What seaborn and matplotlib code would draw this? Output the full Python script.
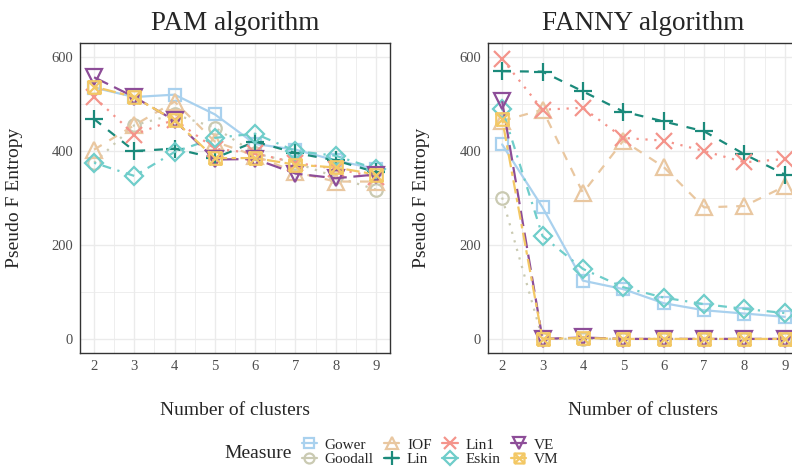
import matplotlib
matplotlib.use("Agg")
import matplotlib.pyplot as plt
from matplotlib.path import Path
from matplotlib.lines import Line2D
import seaborn as sns
import pandas as pd

# ---------------- data ----------------
clusters = [2, 3, 4, 5, 6, 7, 8, 9]
measures = ["Gower", "Goodall", "IOF", "Lin", "Lin1", "Eskin", "VE", "VM"]

pam_gower   = [535, 515, 520, 478, 415, 403, 380, 362]
pam_goodall = [375, 455, 478, 450, 395, 375, 345, 318]
pam_iof     = [403, 455, 505, 420, 390, 355, 335, 335]
pam_lin     = [468, 400, 405, 385, 420, 396, 380, 355]
pam_lin1    = [515, 435, 467, 405, 395, 375, 362, 345]
pam_eskin   = [375, 347, 398, 428, 437, 400, 390, 362]
pam_ve      = [557, 515, 465, 382, 383, 352, 342, 350]
pam_vm      = [537, 515, 465, 385, 385, 371, 365, 350]

fanny_gower   = [414, 280, 124, 106, 76, 61, 54, 47]
fanny_goodall = [301, 0, 0, 0, 0, 0, 0, 0]
fanny_iof     = [464, 488, 311, 422, 366, 280, 283, 325]
fanny_lin     = [570, 569, 527, 484, 463, 442, 393, 350]
fanny_lin1    = [596, 488, 492, 428, 422, 400, 376, 383]
fanny_eskin   = [490, 219, 149, 110, 88, 74, 64, 55]
fanny_ve      = [506, 0, 3, 0, 0, 0, 0, 0]
fanny_vm      = [468, 0, 2, 0, 0, 0, 0, 0]

pam = [pam_gower, pam_goodall, pam_iof, pam_lin, pam_lin1, pam_eskin, pam_ve, pam_vm]
fanny = [fanny_gower, fanny_goodall, fanny_iof, fanny_lin, fanny_lin1, fanny_eskin, fanny_ve, fanny_vm]

# ---------------- style ----------------
sns.set_style("white")
plt.rcParams["font.family"] = ["Liberation Serif", "DejaVu Serif"]

COLORS = {
    "Gower": "#A9D1EE", "Goodall": "#CACAB2", "IOF": "#E9C7A0", "Lin": "#1B8A7B",
    "Lin1": "#F4948B", "Eskin": "#6FCDCA", "VE": "#8D4D98", "VM": "#F3C865",
}
# box with a cross (ggplot shape 7)
boxcross = Path(
    [(-1, -1), (1, -1), (1, 1), (-1, 1), (-1, -1), (-1, -1), (1, 1), (-1, 1), (1, -1)],
    [Path.MOVETO, Path.LINETO, Path.LINETO, Path.LINETO, Path.LINETO,
     Path.MOVETO, Path.LINETO, Path.MOVETO, Path.LINETO],
)
MARKERS = {"Gower": "s", "Goodall": "o", "IOF": "^", "Lin": "+",
           "Lin1": "x", "Eskin": "D", "VE": "v", "VM": boxcross}
MSIZE = {"Gower": 9, "Goodall": 9, "IOF": 11, "Lin": 13, "Lin1": 11,
         "Eskin": 9, "VE": 11, "VM": 9}
DASHES = {"Gower": None, "Goodall": (1, 3), "IOF": (4, 4), "Lin": (4, 4),
          "Lin1": (1, 3), "Eskin": (1, 3, 4, 3), "VE": (7, 3), "VM": (2, 2, 6, 2)}

GRID = "#EBEBEB"
TXT = "#4D4D4D"

fig = plt.figure(figsize=(7.92, 4.68), dpi=100)
ax1 = fig.add_axes([80 / 792, 115 / 468, 310 / 792, 310 / 468])
ax2 = fig.add_axes([488 / 792, 115 / 468, 311 / 792, 310 / 468])


def draw(ax, values, title):
    for m, ys in zip(measures, values):
        df = pd.DataFrame({"k": clusters, "v": ys})
        kw = dict(linestyle="-") if DASHES[m] is None else dict(dashes=DASHES[m])
        sns.lineplot(data=df, x="k", y="v", ax=ax, color=COLORS[m], lw=1.6,
                     marker=MARKERS[m], markersize=MSIZE[m], mfc="none",
                     mec=COLORS[m], mew=1.6, legend=False, **kw)
    ax.set_xlim(1.65, 9.35)
    ax.set_ylim(-30, 630)
    ax.set_xticks(clusters)
    ax.set_yticks([0, 200, 400, 600])
    ax.set_xticks([2.5, 3.5, 4.5, 5.5, 6.5, 7.5, 8.5], minor=True)
    ax.set_yticks([100, 300, 500], minor=True)
    ax.grid(True, which="major", color=GRID, lw=1.0)
    ax.grid(True, which="minor", color=GRID, lw=0.6)
    ax.set_axisbelow(True)
    ax.tick_params(which="major", length=3, color="#333333", labelsize=10.5,
                   labelcolor=TXT, pad=2)
    ax.tick_params(which="minor", length=0)
    for s in ax.spines.values():
        s.set_color("#333333")
        s.set_linewidth(1.0)
    ax.set_title(title, fontsize=19.5, pad=9)
    ax.set_xlabel("Number of clusters", fontsize=14)
    ax.set_ylabel("Pseudo F Entropy", fontsize=14)
    ax.xaxis.set_label_coords(0.5, -0.158)
    ax.yaxis.set_label_coords(-0.185, 0.5)


draw(ax1, pam, "PAM algorithm")
draw(ax2, fanny, "FANNY algorithm")

handles = []
for m in measures:
    h = Line2D([0], [0], color=COLORS[m], lw=1.6, marker=MARKERS[m],
               markersize=MSIZE[m] * 0.8, mfc="none", mec=COLORS[m], mew=1.6)
    handles.append(h)
leg = fig.legend(handles, measures, ncol=4, loc="center",
                 bbox_to_anchor=(430 / 792, 1 - 452 / 468),
                 frameon=False, fontsize=11, handlelength=1.0, handletextpad=0.5,
                 columnspacing=0.7, labelspacing=0.05, borderpad=0)
fig.text(224 / 792, 1 - 453 / 468, "Measure", fontsize=14, ha="left", va="center")

fig.savefig("out.png", dpi=100)
